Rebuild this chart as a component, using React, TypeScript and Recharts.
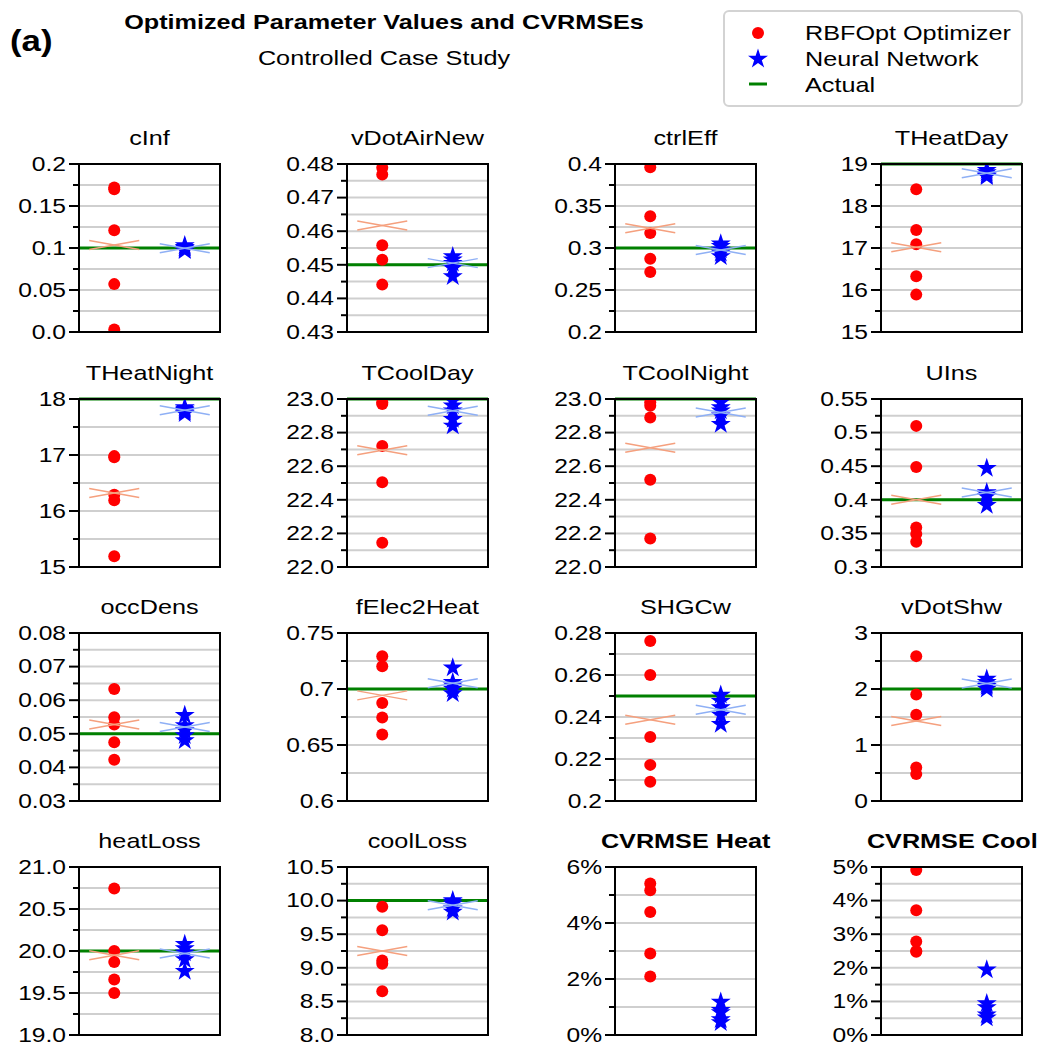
import React from "react";
import { ScatterChart, Scatter, XAxis, YAxis, CartesianGrid, ReferenceLine } from "recharts";

// panel titles, row by row
const titles = [
  "cInf", "vDotAirNew", "ctrlEff", "THeatDay",
  "THeatNight", "TCoolDay", "TCoolNight", "UIns",
  "occDens", "fElec2Heat", "SHGCw", "vDotShw",
  "heatLoss", "coolLoss", "CVRMSE Heat", "CVRMSE Cool",
];
const boldTitles = [14, 15];

// RBFOpt optimizer runs (red dots)
const rbfValues = [
  [0.172, 0.17, 0.121, 0.057, 0.003],
  [0.4789, 0.4769, 0.4558, 0.4515, 0.4441],
  [0.396, 0.3377, 0.3179, 0.2873, 0.2714],
  [18.4, 17.43, 17.09, 16.33, 15.89],
  [16.98, 16.96, 16.29, 16.19, 15.19],
  [22.98, 22.97, 22.72, 22.505, 22.145],
  [22.98, 22.96, 22.89, 22.52, 22.17],
  [0.51, 0.4487, 0.3588, 0.349, 0.3375],
  [0.0633, 0.0549, 0.0528, 0.0475, 0.0423],
  [0.7293, 0.7204, 0.6874, 0.6746, 0.6593],
  [0.2762, 0.26, 0.2305, 0.2172, 0.2092],
  [2.587, 1.9, 1.54, 0.6, 0.48],
  [20.745, 20.0, 19.87, 19.66, 19.5],
  [9.91, 9.56, 9.11, 9.06, 8.65],
  [5.41, 5.17, 4.39, 2.91, 2.09],
  [4.91, 3.71, 2.78, 2.48, 2.5],
];

// Neural network runs (blue stars)
const nnValues = [
  [0.103, 0.101, 0.1, 0.098, 0.097],
  [0.4525, 0.4515, 0.4505, 0.449, 0.4465],
  [0.305, 0.302, 0.298, 0.294, 0.29],
  [18.85, 18.8, 18.75, 18.72, 18.7],
  [17.85, 17.82, 17.8, 17.77, 17.74],
  [22.99, 22.96, 22.93, 22.88, 22.84],
  [22.98, 22.95, 22.93, 22.9, 22.85],
  [0.447, 0.411, 0.408, 0.405, 0.392],
  [0.0555, 0.0525, 0.051, 0.0495, 0.048],
  [0.719, 0.706, 0.703, 0.7, 0.696],
  [0.2505, 0.2475, 0.2445, 0.241, 0.2365],
  [2.18, 2.12, 2.08, 2.05, 2.0],
  [20.08, 20.03, 19.98, 19.9, 19.76],
  [10.0, 9.98, 9.95, 9.88, 9.83],
  [1.18, 0.88, 0.8, 0.55, 0.45],
  [1.94, 0.94, 0.82, 0.6, 0.51],
];

// mean markers (the thin crosses) and true values
const rbfMeans = [0.1036, 0.4617, 0.3234, 17.02, 16.32, 22.695, 22.71, 0.4, 0.0528, 0.6943, 0.2387, 1.43, 19.95, 9.25, null, null];
const nnMeans = [0.0996, 0.4505, 0.2976, 18.78, 17.8, 22.93, 22.92, 0.411, 0.052, 0.7051, 0.2435, 2.1, 19.97, 9.93, null, null];
const actuals = [0.1, 0.45, 0.3, 19, 18, 23, 23, 0.4, 0.05, 0.7, 0.25, 2, 20, 10, null, null];

const yDomains = [
  [0, 0.2], [0.43, 0.48], [0.2, 0.4], [15, 19],
  [15, 18], [22, 23], [22, 23], [0.3, 0.55],
  [0.03, 0.08], [0.6, 0.75], [0.2, 0.28], [0, 3],
  [19, 21], [8, 10.5], [0, 6], [0, 5],
];

const majorTicks = [
  [0, 0.05, 0.1, 0.15, 0.2],
  [0.43, 0.44, 0.45, 0.46, 0.47, 0.48],
  [0.2, 0.25, 0.3, 0.35, 0.4],
  [15, 16, 17, 18, 19],
  [15, 16, 17, 18],
  [22, 22.2, 22.4, 22.6, 22.8, 23],
  [22, 22.2, 22.4, 22.6, 22.8, 23],
  [0.3, 0.35, 0.4, 0.45, 0.5, 0.55],
  [0.03, 0.04, 0.05, 0.06, 0.07, 0.08],
  [0.6, 0.65, 0.7, 0.75],
  [0.2, 0.22, 0.24, 0.26, 0.28],
  [0, 1, 2, 3],
  [19, 19.5, 20, 20.5, 21],
  [8, 8.5, 9, 9.5, 10, 10.5],
  [0, 2, 4, 6],
  [0, 1, 2, 3, 4, 5],
];

const tickLabels = [
  ["0.0", "0.05", "0.1", "0.15", "0.2"],
  ["0.43", "0.44", "0.45", "0.46", "0.47", "0.48"],
  ["0.2", "0.25", "0.3", "0.35", "0.4"],
  ["15", "16", "17", "18", "19"],
  ["15", "16", "17", "18"],
  ["22.0", "22.2", "22.4", "22.6", "22.8", "23.0"],
  ["22.0", "22.2", "22.4", "22.6", "22.8", "23.0"],
  ["0.3", "0.35", "0.4", "0.45", "0.5", "0.55"],
  ["0.03", "0.04", "0.05", "0.06", "0.07", "0.08"],
  ["0.6", "0.65", "0.7", "0.75"],
  ["0.2", "0.22", "0.24", "0.26", "0.28"],
  ["0", "1", "2", "3"],
  ["19.0", "19.5", "20.0", "20.5", "21.0"],
  ["8.0", "8.5", "9.0", "9.5", "10.0", "10.5"],
  ["0%", "2%", "4%", "6%"],
  ["0%", "1%", "2%", "3%", "4%", "5%"],
];

const minorTicks = [
  [0.025, 0.075, 0.125, 0.175],
  [0.435, 0.445, 0.455, 0.465, 0.475],
  [0.225, 0.275, 0.325, 0.375],
  [15.5, 16.5, 17.5, 18.5],
  [15.5, 16.5, 17.5],
  [22.1, 22.3, 22.5, 22.7, 22.9],
  [22.1, 22.3, 22.5, 22.7, 22.9],
  [0.325, 0.375, 0.425, 0.475, 0.525],
  [0.035, 0.045, 0.055, 0.065, 0.075],
  [0.625, 0.675, 0.725],
  [0.21, 0.23, 0.25, 0.27],
  [0.5, 1.5, 2.5],
  [19.25, 19.75, 20.25, 20.75],
  [8.25, 8.75, 9.25, 9.75, 10.25],
  [1, 3, 5],
  [0.5, 1.5, 2.5, 3.5, 4.5],
];

const colLefts = [79, 347, 615, 881];
const rowTops = [164, 399, 633, 867];
const PW = 141;
const PH = 168;
const YW = 75;
const MT = 16;
const FONT = '"Liberation Sans", Arial, Helvetica, sans-serif';
const SX = 1.2;

function starPath(cx: number, cy: number, R: number) {
  const r = R * 0.382;
  let d = "";
  for (let k = 0; k < 10; k++) {
    const a = -Math.PI / 2 + (k * Math.PI) / 5;
    const rr = k % 2 === 0 ? R : r;
    d += (k === 0 ? "M" : "L") + (cx + rr * Math.cos(a)).toFixed(2) + "," + (cy + rr * Math.sin(a)).toFixed(2);
  }
  return d + "Z";
}

const RedDot = (p: any) => <circle cx={p.cx} cy={p.cy} r={6} fill="#ff0000" />;
const BlueStar = (p: any) => <path d={starPath(p.cx, p.cy, 10.5)} fill="#0000ff" />;
const meanCross = (color: string) => (p: any) => (
  <g stroke={color} strokeWidth={1.5}>
    <line x1={p.cx - 25} y1={p.cy - 4.5} x2={p.cx + 25} y2={p.cy + 4.5} />
    <line x1={p.cx - 25} y1={p.cy + 4.5} x2={p.cx + 25} y2={p.cy - 4.5} />
  </g>
);

function Panel({ i }: { i: number }) {
  const left = colLefts[i % 4];
  const top = rowTops[Math.floor(i / 4)];
  const majors = majorTicks[i];
  const labels = tickLabels[i];
  const allTicks = [...majors, ...minorTicks[i]].sort((a, b) => a - b);

  const renderTick = (props: any) => {
    const v = props.payload.value;
    const y = props.y;
    const idx = majors.findIndex((m) => Math.abs(m - v) < 1e-9);
    const major = idx >= 0;
    return (
      <g>
        <line x1={YW - (major ? 10 : 6)} x2={YW} y1={y} y2={y} stroke="#000" strokeWidth={2} />
        {major && (
          <text
            x={0}
            y={0}
            transform={`translate(${YW - 13},${y}) scale(${SX},1)`}
            textAnchor="end"
            dominantBaseline="central"
            fontSize={20.5}
            fontFamily={FONT}
            fill="#000"
          >
            {labels[idx]}
          </text>
        )}
      </g>
    );
  };

  const red = rbfValues[i].map((v) => ({ x: 0, y: v }));
  const blue = nnValues[i].map((v) => ({ x: 1, y: v }));

  return (
    <>
      <div
        style={{
          position: "absolute",
          left,
          top: top - 38,
          width: PW,
          lineHeight: "24px",
          fontSize: 21,
          fontWeight: boldTitles.includes(i) ? "bold" : "normal",
          textAlign: "center",
          whiteSpace: "nowrap",
          transform: `scaleX(${SX})`,
        }}
      >
        {titles[i]}
      </div>
      <div style={{ position: "absolute", left: left - YW, top: top - MT }}>
        <ScatterChart width={YW + PW + 6} height={PH + 2 * MT} margin={{ top: MT, right: 6, bottom: MT, left: 0 }}>
          <CartesianGrid horizontal vertical={false} stroke="#cfcfcf" strokeWidth={2} />
          <XAxis type="number" dataKey="x" domain={[-0.5, 1.5]} hide height={0} allowDataOverflow />
          <YAxis
            type="number"
            dataKey="y"
            domain={yDomains[i]}
            ticks={allTicks}
            interval={0}
            allowDataOverflow
            width={YW}
            tick={renderTick}
            tickLine={false}
            axisLine={false}
          />
          <Scatter data={red} shape={RedDot} isAnimationActive={false} />
          <Scatter data={blue} shape={BlueStar} isAnimationActive={false} />
          {rbfMeans[i] !== null && (
            <Scatter data={[{ x: 0, y: rbfMeans[i] }]} shape={meanCross("#f5a07e")} isAnimationActive={false} />
          )}
          {nnMeans[i] !== null && (
            <Scatter data={[{ x: 1, y: nnMeans[i] }]} shape={meanCross("#8fb0f5")} isAnimationActive={false} />
          )}
          {actuals[i] !== null && <ReferenceLine y={actuals[i] as number} stroke="#008000" strokeWidth={3} />}
        </ScatterChart>
      </div>
      <div
        style={{
          position: "absolute",
          left: left - 1,
          top: top - 1,
          width: PW + 2,
          height: PH + 2,
          boxSizing: "border-box",
          border: "2px solid #000",
          pointerEvents: "none",
        }}
      />
    </>
  );
}

export default function App() {
  const textBase: React.CSSProperties = {
    position: "absolute",
    whiteSpace: "nowrap",
    fontFamily: FONT,
    color: "#000",
  };
  return (
    <div
      style={{
        position: "absolute",
        left: 0,
        top: 0,
        width: 1046,
        height: 1047,
        background: "#fff",
        fontFamily: FONT,
        color: "#000",
      }}
    >
      <div style={{ ...textBase, left: 10, top: 24, fontSize: 29, lineHeight: "34px", fontWeight: "bold", transform: `scaleX(${SX})`, transformOrigin: "left center" }}>
        (a)
      </div>
      <div style={{ ...textBase, left: 84, width: 600, top: 10, fontSize: 21, lineHeight: "24px", fontWeight: "bold", textAlign: "center", transform: `scaleX(${SX})` }}>
        Optimized Parameter Values and CVRMSEs
      </div>
      <div style={{ ...textBase, left: 84, width: 600, top: 46, fontSize: 21, lineHeight: "24px", textAlign: "center", transform: `scaleX(${SX})` }}>
        Controlled Case Study
      </div>

      {/* legend */}
      <div
        style={{
          position: "absolute",
          left: 723,
          top: 10,
          width: 300,
          height: 97,
          boxSizing: "border-box",
          border: "2px solid #d3d3d3",
          borderRadius: 6,
          background: "#fff",
        }}
      />
      <svg style={{ position: "absolute", left: 723, top: 10 }} width={80} height={97}>
        <circle cx={35} cy={23} r={6} fill="#ff0000" />
        <path d={starPath(35, 49, 10.5)} fill="#0000ff" />
        <line x1={26} x2={44} y1={74} y2={74} stroke="#008000" strokeWidth={3} />
      </svg>
      {["RBFOpt Optimizer", "Neural Network", "Actual"].map((t, k) => (
        <div
          key={t}
          style={{ ...textBase, left: 805, top: 21 + k * 26, fontSize: 21, lineHeight: "24px", transform: `scaleX(${SX})`, transformOrigin: "left center" }}
        >
          {t}
        </div>
      ))}

      {titles.map((_, i) => (
        <Panel key={i} i={i} />
      ))}
    </div>
  );
}
